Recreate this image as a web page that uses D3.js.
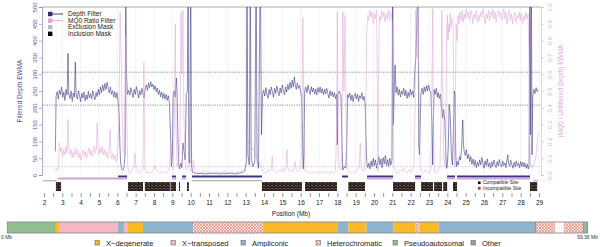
<!DOCTYPE html>
<html lang="en">
<head>
<meta charset="UTF-8">
<title>Filtered depth and MQ0 ratio along the Y chromosome</title>
<script src="https://d3js.org/d3.v7.min.js"></script>
<style>
  body { margin: 0; background: #fff; }
  svg { display: block; font-family: "Liberation Sans", Arial, sans-serif; }
</style>
</head>
<body>
<svg width="600" height="247"></svg>
<script>
// depth EWMA, [position Mb, depth]
const depthEwma = [
  [2.62,70],[2.66,235],[2.72,248],[2.78,226],[2.84,252],[2.9,240],[2.96,262],[3.02,231],[3.08,247],[3.14,222],
  [3.2,255],[3.26,238],[3.31,362],[3.35,241],[3.42,228],[3.48,250],[3.54,219],[3.6,244],[3.66,232],[3.71,336],
  [3.75,240],[3.82,226],[3.88,251],[3.94,235],[4.0,218],[4.06,243],[4.12,229],[4.18,247],[4.24,221],[4.3,238],
  [4.36,225],[4.42,249],[4.48,230],[4.54,242],[4.6,226],[4.66,251],[4.72,236],[4.78,224],[4.84,246],[4.9,233],
  [4.96,255],[5.02,238],[5.08,262],[5.14,245],[5.2,268],[5.26,250],[5.32,272],[5.38,255],[5.44,276],[5.5,258],
  [5.56,244],[5.62,262],[5.68,240],[5.74,251],[5.8,232],[5.86,248],[5.92,229],[5.98,245],[6.04,222],
  [6.1,180],[6.14,90],[6.18,35],[6.24,18],[6.3,14],[6.36,22],[6.42,60],[6.46,620],[6.5,300],[6.55,240],
  [6.62,252],[6.68,238],[6.74,260],[6.8,244],[6.86,231],[6.92,255],[6.98,240],[7.04,263],[7.1,247],[7.16,229],
  [7.22,251],[7.28,238],[7.34,258],[7.4,242],[7.46,230],[7.52,256],[7.58,268],[7.64,252],[7.7,274],[7.76,260],
  [7.82,278],[7.88,262],[7.94,270],[8.0,254],[8.06,266],[8.12,248],[8.18,259],[8.24,240],[8.3,252],[8.36,233],
  [8.42,247],[8.48,228],[8.54,243],[8.6,226],[8.66,240],[8.72,222],[8.78,236],[8.84,215],
  [8.9,120],[8.95,25],[9.0,60],[9.05,238],[9.1,250],[9.16,232],[9.22,289],[9.26,240],[9.3,120],[9.35,30],
  [9.4,18],[9.46,35],[9.52,22],[9.58,95],[9.64,70],[9.7,45],[9.76,240],[9.82,250],[9.86,650],[9.9,50],
  [9.95,35],[10.0,640],[10.05,30],[10.1,8],
  [10.2,6],[10.4,4],[10.6,5],[10.8,3],[11.0,5],[11.2,4],[11.4,6],[11.6,3],[11.8,5],[12.0,4],
  [12.2,6],[12.4,3],[12.6,5],[12.8,7],[12.95,12],
  [13.04,40],[13.07,650],[13.12,60],[13.2,30],[13.25,640],[13.3,50],[13.4,25],[13.5,40],[13.57,650],[13.62,45],
  [13.7,20],[13.8,660],[13.86,120],[13.92,240],
  [13.98,252],[14.04,235],[14.1,260],[14.16,241],[14.22,228],[14.28,255],[14.34,239],[14.4,262],[14.46,246],[14.52,231],
  [14.58,258],[14.64,243],[14.7,265],[14.76,248],[14.82,236],[14.88,259],[14.94,244],[15.0,268],[15.06,251],[15.12,239],
  [15.18,262],[15.24,247],[15.3,270],[15.36,254],[15.42,276],[15.48,258],[15.54,282],[15.6,262],[15.66,292],[15.7,270],
  [15.76,255],[15.82,274],[15.88,258],[15.94,266],[16.0,248],[16.06,230],[16.1,120],[16.14,18],[16.18,60],[16.22,250],
  [16.28,262],[16.34,245],[16.4,268],[16.46,251],[16.52,240],[16.58,263],[16.64,247],[16.7,259],[16.76,241],[16.82,256],
  [16.88,238],[16.94,260],[17.0,246],[17.06,262],[17.12,244],[17.18,257],[17.24,239],[17.3,255],[17.36,241],[17.42,258],
  [17.48,243],[17.54,229],[17.6,251],[17.66,236],[17.72,248],[17.78,232],[17.84,245],[17.9,228],[17.96,240],[18.0,90],
  [18.03,240],[18.1,250],[18.2,235],[18.26,80],[18.3,15],[18.38,25],[18.46,20],[18.52,110],[18.56,240],[18.62,230],
  [18.68,244],[18.74,222],[18.8,238],[18.86,218],[18.92,235],[18.98,243],[19.04,226],[19.1,240],[19.16,219],[19.22,236],
  [19.28,228],[19.34,245],[19.4,223],[19.46,234],[19.52,212],[19.56,120],
  [19.6,40],[19.66,22],[19.72,35],[19.78,18],[19.84,42],[19.9,25],[19.96,50],[20.02,28],[20.08,45],[20.14,20],
  [20.2,38],[20.26,55],[20.32,30],[20.38,48],[20.44,22],[20.5,52],[20.56,33],[20.62,58],[20.68,28],[20.74,46],
  [20.8,25],[20.86,50],[20.92,30],[20.98,44],[21.02,640],[21.06,150],
  [21.1,250],[21.15,327],[21.2,245],[21.26,262],[21.32,238],[21.38,255],[21.44,232],[21.5,250],[21.56,240],[21.62,258],
  [21.68,236],[21.74,252],[21.8,228],[21.86,246],[21.92,233],[21.98,255],[22.04,238],[22.1,250],[22.16,231],
  [22.22,300],[22.28,350],[22.34,452],[22.4,650],[22.44,90],[22.48,60],[22.52,150],[22.56,245],
  [22.62,258],[22.68,240],[22.74,262],[22.8,247],[22.86,266],[22.92,250],[22.98,268],[23.04,252],[23.1,243],[23.16,150],
  [23.2,30],[23.24,170],[23.28,255],[23.34,240],[23.4,258],[23.46,232],[23.5,245],[23.56,228],[23.62,240],[23.68,205],
  [23.74,170],[23.8,195],[23.86,160],[23.92,60],[23.96,20],[24.0,30],
  [24.05,80],[24.1,210],[24.16,175],[24.22,60],[24.28,30],[24.34,150],[24.38,250],[24.42,240],[24.46,60],[24.5,25],
  [24.55,40],[24.6,30],[24.66,55],[24.72,45],[24.78,80],[24.84,164],[24.88,90],[24.92,70],[24.98,58],[25.04,75],
  [25.1,48],[25.16,62],[25.22,40],[25.28,55],[25.34,32],[25.4,48],[25.46,28],[25.52,44],[25.58,22],[25.64,38],
  [25.7,26],[25.76,45],[25.82,30],[25.88,52],[25.94,34],[26.0,20],[26.06,42],[26.12,28],[26.18,48],[26.24,24],
  [26.3,36],[26.36,20],[26.42,40],[26.48,26],[26.54,45],[26.6,30],[26.66,22],[26.72,40],[26.78,27],[26.84,46],
  [26.9,30],[26.96,24],[27.02,42],[27.08,28],[27.14,36],[27.2,22],[27.26,48],[27.3,60],[27.34,35],[27.4,26],
  [27.46,44],[27.52,30],[27.58,20],[27.64,38],[27.7,25],[27.76,42],[27.82,28],[27.88,35],[27.94,22],[28.0,40],
  [28.06,26],[28.12,38],[28.18,24],[28.24,36],[28.3,20],[28.36,32],[28.42,18],[28.46,30],
  [28.5,660],[28.54,120],[28.58,640],[28.62,60],[28.66,235],[28.72,255],[28.78,242],[28.84,260],[28.9,248],[28.95,255]
];

// MQ0 / unfiltered depth EWMA, [position Mb, ratio]
const mq0Ewma = [
  [2.62,0.02],[2.7,0.04],[2.78,0.03],[2.84,0.19],[2.9,0.14],[2.96,0.16],[3.02,0.11],[3.08,0.15],[3.14,0.12],[3.2,0.17],
  [3.26,0.13],[3.31,0.33],[3.36,0.16],[3.42,0.12],[3.48,0.15],[3.54,0.1],[3.6,0.14],[3.66,0.11],[3.72,0.16],[3.78,0.12],
  [3.84,0.15],[3.9,0.1],[3.96,0.13],[4.02,0.09],[4.08,0.12],[4.14,0.15],[4.2,0.11],[4.26,0.14],[4.32,0.1],[4.38,0.13],
  [4.44,0.16],[4.5,0.12],[4.56,0.15],[4.62,0.11],[4.68,0.14],[4.74,0.17],[4.8,0.13],[4.86,0.16],[4.9,0.31],[4.95,0.15],
  [5.0,0.12],[5.06,0.16],[5.12,0.13],[5.18,0.17],[5.24,0.12],[5.3,0.15],[5.36,0.11],[5.42,0.14],[5.48,0.1],[5.54,0.13],
  [5.6,0.27],[5.65,0.12],[5.7,0.1],[5.76,0.13],[5.82,0.09],[5.88,0.12],[5.94,0.08],[6.0,0.11],[6.05,0.2],
  [6.1,0.45],[6.15,0.97],[6.2,0.75],[6.26,0.4],[6.32,0.15],[6.4,0.1],[6.47,0.83],[6.52,0.3],[6.57,0.05],
  [6.62,0.02],[6.7,0.01],[6.8,0.03],[6.9,0.05],[6.96,0.13],[7.02,0.04],[7.1,0.02],[7.2,0.01],[7.3,0.02],[7.4,0.03],
  [7.45,0.67],[7.5,0.03],[7.6,0.01],[7.7,0.02],[7.8,0.01],[7.9,0.02],[8.0,0.03],[8.05,0.06],[8.1,0.04],[8.2,0.02],
  [8.3,0.01],[8.4,0.02],[8.5,0.01],[8.6,0.02],[8.7,0.01],[8.8,0.03],[8.86,0.05],
  [8.92,0.2],[8.98,0.05],[9.05,0.03],[9.12,0.4],[9.16,0.9],[9.2,0.3],[9.26,0.05],[9.34,0.08],[9.42,0.2],[9.47,0.97],
  [9.52,0.6],[9.58,0.98],[9.64,0.3],[9.7,0.08],[9.76,0.03],[9.82,0.05],[9.88,0.09],[9.94,0.04],[10.0,0.03],[10.08,0.02],
  [10.16,0.09],[10.22,0.03],
  [10.3,0.02],[10.4,0.01],[10.5,0.02],[10.6,0.01],[10.7,0.03],[10.8,0.01],[10.9,0.02],[11.0,0.01],[11.1,0.02],[11.2,0.01],
  [11.3,0.02],[11.4,0.01],[11.5,0.02],[11.6,0.01],[11.7,0.02],[11.8,0.01],[11.9,0.03],[12.0,0.01],[12.1,0.02],[12.2,0.01],
  [12.3,0.02],[12.4,0.01],[12.5,0.02],[12.6,0.01],[12.7,0.02],[12.8,0.03],[12.9,0.02],[13.0,0.04],
  [13.06,0.08],[13.12,0.21],[13.2,0.18],[13.28,0.2],[13.36,0.15],[13.44,0.16],[13.52,0.12],[13.6,0.13],[13.68,0.09],[13.76,0.08],
  [13.84,0.05],[13.92,0.03],
  [14.0,0.02],[14.1,0.01],[14.2,0.03],[14.3,0.02],[14.4,0.04],[14.45,0.11],[14.5,0.03],[14.6,0.02],[14.7,0.01],[14.8,0.03],
  [14.9,0.02],[15.0,0.04],[15.1,0.02],[15.2,0.05],[15.25,0.15],[15.3,0.04],[15.4,0.02],[15.5,0.03],[15.6,0.02],[15.7,0.08],
  [15.76,0.03],[15.85,0.02],[15.95,0.04],[16.05,0.1],[16.12,0.94],[16.18,0.2],[16.24,0.03],[16.3,0.02],[16.4,0.01],[16.5,0.02],
  [16.6,0.01],[16.7,0.02],[16.8,0.01],[16.9,0.02],[17.0,0.01],[17.1,0.02],[17.2,0.01],[17.3,0.02],[17.4,0.01],[17.5,0.02],
  [17.6,0.01],[17.7,0.02],[17.8,0.01],[17.9,0.03],[17.97,0.3],[18.0,0.97],[18.04,0.2],[18.1,0.04],[18.2,0.03],[18.27,0.4],
  [18.3,0.97],[18.36,0.5],[18.42,0.95],[18.48,0.3],[18.54,0.05],[18.6,0.02],[18.7,0.01],[18.8,0.02],[18.9,0.01],[19.0,0.02],
  [19.1,0.03],[19.2,0.06],[19.25,0.19],[19.3,0.05],[19.4,0.02],[19.5,0.03],
  [19.55,0.3],[19.6,0.85],[19.66,0.95],[19.72,0.92],[19.78,0.98],[19.84,0.94],[19.9,0.97],[19.96,0.9],[20.02,0.96],[20.08,0.93],
  [20.14,0.98],[20.18,0.6],[20.22,0.02],[20.26,0.7],[20.3,0.95],[20.36,0.92],[20.42,0.98],[20.48,0.94],[20.54,0.97],[20.6,0.91],
  [20.66,0.96],[20.72,0.93],[20.78,0.98],[20.84,0.92],[20.9,0.97],[20.96,0.94],[21.0,0.9],[21.04,0.5],[21.08,0.05],
  [21.14,0.03],[21.2,0.02],[21.3,0.01],[21.4,0.03],[21.5,0.02],[21.6,0.04],[21.7,0.02],[21.8,0.01],[21.9,0.03],[22.0,0.02],
  [22.1,0.03],[22.18,0.05],
  [22.24,0.4],[22.28,0.98],[22.34,0.7],[22.4,0.99],[22.46,0.5],[22.52,0.05],
  [22.6,0.02],[22.7,0.01],[22.8,0.03],[22.9,0.02],[23.0,0.01],[23.1,0.03],[23.16,0.5],[23.2,0.99],[23.24,0.3],[23.3,0.02],
  [23.4,0.01],[23.5,0.03],[23.6,0.05],[23.66,0.4],[23.7,0.98],[23.74,0.5],[23.8,0.1],[23.86,0.05],[23.92,0.2],
  [23.96,0.85],[24.0,0.95],[24.04,0.8],[24.08,0.9],[24.12,0.85],[24.16,0.96],[24.2,0.88],[24.26,0.93],[24.32,0.9],[24.36,0.3],
  [24.4,0.05],[24.44,0.4],[24.48,0.9],[24.54,0.8],[24.58,0.95],[24.62,0.9],[24.68,0.97],[24.74,0.92],[24.8,0.98],[24.86,0.91],
  [24.92,0.96],[24.98,0.93],[25.04,0.99],[25.1,0.94],[25.16,0.97],[25.22,0.92],[25.28,0.98],[25.34,0.95],[25.4,0.9],[25.46,0.96],
  [25.52,0.93],[25.58,0.98],[25.64,0.91],[25.7,0.95],[25.76,0.92],[25.82,0.97],[25.88,0.94],[25.94,0.99],[26.0,0.95],[26.06,0.9],
  [26.12,0.96],[26.18,0.93],[26.24,0.98],[26.3,0.92],[26.36,0.97],[26.42,0.94],[26.48,0.99],[26.54,0.93],[26.6,0.97],[26.66,0.91],
  [26.72,0.96],[26.78,0.98],[26.84,0.94],[26.9,0.97],[26.96,0.92],[27.02,0.95],[27.08,0.99],[27.14,0.93],[27.2,0.97],[27.26,0.9],
  [27.32,0.95],[27.38,0.98],[27.44,0.92],[27.5,0.96],[27.56,0.9],[27.62,0.94],[27.68,0.97],[27.74,0.91],[27.8,0.95],[27.86,0.93],
  [27.92,0.97],[27.98,0.92],[28.04,0.96],[28.1,0.9],[28.16,0.95],[28.22,0.92],[28.28,0.97],[28.34,0.93],[28.4,0.96],[28.46,0.7],
  [28.5,0.2],[28.54,0.05],[28.6,0.04],[28.66,0.06],[28.72,0.05],[28.78,0.08],[28.84,0.12],[28.9,0.2],[28.95,0.25]
];

const depthCutoffs = [208, 306];
const mq0Cutoff = 0.05;

// mask intervals in Mb
const depthFilter = [[6.04,6.53],[8.98,9.2],[9.53,9.75],[10.07,13.89],[18.26,18.58],[19.62,21.04],[22.24,22.57],[23.99,24.42],[24.53,28.51]];
const mq0Filter = [[2.76,6.53],[8.98,9.2],[9.53,9.75],[19.62,21.04],[22.24,22.57],[23.99,24.42],[24.53,28.51]];
const exclusionMask = [[1.95,2.7],[10.07,13.89],[28.7,28.95]];
const inclusionMask = [[2.65,2.93],[6.58,7.4],[7.5,8.87],[8.9,9.2],[9.36,9.42],[9.8,9.9],[13.89,16.07],[16.24,17.98],
  [18.6,19.51],[21.04,22.24],[22.57,23.22],[23.28,23.71],[23.77,23.99],[24.31,24.53],[28.51,28.9]];

// chromosome bar
const segStart = [0, 2.65, 2.82, 6.04, 6.36, 6.58, 7.4, 10.13, 13.95, 18.0, 18.6, 19.6, 21.07, 22.27, 22.49, 23.53, 28.71, 28.87, 29.9, 30.35, 31.4, 31.5];
const segEnd   = [2.65, 2.82, 6.04, 6.36, 6.58, 7.4, 10.13, 13.95, 18.0, 18.6, 19.6, 21.07, 22.27, 22.49, 23.53, 28.71, 28.87, 29.9, 30.35, 31.4, 31.5, 31.65];
const segType  = ["par","xdeg","xtrans","ampl","xtrans","xdeg","ampl","het","xdeg","ampl","xdeg","ampl","xdeg","het","xdeg","ampl","other","het","gap","het","other","par"];

const classNames = ["X\u2212degenerate","X\u2212transposed","Ampliconic","Heterochromatic","Pseudoautosomal","Other"];
const classKeys = ["xdeg","xtrans","ampl","het","par","other"];

const positionTicks = [2,3,4,5,6,7,8,9,10,11,12,13,14,15,16,17,18,19,20,21,22,23,24,25,26,27,28,29];
const depthTicks = [0,50,100,150,200,250,300,350,400,450,500];
const ratioTicks = [0,0.1,0.2,0.3,0.4,0.5,0.6,0.7,0.8,0.9,1.0];

const navy = "#2d2d7d", pink = "#dca3d4";
const classColor = { xdeg: "#fbba25", xtrans: "#f7b6c5", ampl: "#8db5d0", het: "url(#hatch)", par: "#8fbf8c", other: "#9c9c9c", gap: "#fff" };

const svg = d3.select("svg");
const defs = svg.append("defs");

const hatch = defs.append("pattern").attr("id", "hatch").attr("width", 3).attr("height", 3).attr("patternUnits", "userSpaceOnUse");
hatch.append("rect").attr("width", 3).attr("height", 3).attr("fill", "#fbe2dc");
hatch.append("path").attr("d", "M0,0L3,3M3,0L0,3").attr("stroke", "#e57f6c").attr("stroke-width", 0.6);

const sites = defs.append("pattern").attr("id", "sites").attr("width", 4).attr("height", 3).attr("patternUnits", "userSpaceOnUse");
sites.append("rect").attr("width", 4).attr("height", 3).attr("fill", "#2e2220");
sites.append("rect").attr("x", 1).attr("y", 0).attr("width", 1).attr("height", 1).attr("fill", "#8e3a30");
sites.append("rect").attr("x", 3).attr("y", 2).attr("width", 1).attr("height", 1).attr("fill", "#7a4a40");
sites.append("rect").attr("x", 0).attr("y", 2).attr("width", 1).attr("height", 1).attr("fill", "#5e504c");

defs.append("clipPath").attr("id", "plotclip").append("rect")
  .attr("x", 42).attr("y", 7).attr("width", 499).attr("height", 168.5);

const x = d3.scaleLinear().domain([2, 29]).range([44, 539]);
const yD = d3.scaleLinear().domain([0, 500]).range([175, 7]);
const yR = d3.scaleLinear().domain([0, 1]).range([175, 7]);

// grid
svg.append("g").selectAll("line").data(positionTicks).join("line")
  .attr("x1", d => x(d)).attr("x2", d => x(d)).attr("y1", 7).attr("y2", 175)
  .attr("stroke", "#ededed").attr("stroke-width", 0.6);

// frame top + axes
svg.append("line").attr("x1", 42).attr("x2", 541).attr("y1", 7).attr("y2", 7).attr("stroke", "#8a8a8a").attr("stroke-width", 0.7);

const leftAxis = svg.append("g").attr("transform", "translate(42,0)")
  .call(d3.axisLeft(yD).tickValues(depthTicks).tickSize(3).tickPadding(2));
leftAxis.select(".domain").attr("stroke", "#7a7ab0").attr("stroke-width", 0.6);
leftAxis.selectAll(".tick line").attr("stroke", "#7a7ab0").attr("stroke-width", 0.6);
leftAxis.selectAll(".tick text").attr("transform", "rotate(-90)").attr("x", 0).attr("y", -5).attr("dy", 0)
  .attr("text-anchor", "middle").attr("fill", "#5c5ca6").style("font-size", "6px");

const rightAxis = svg.append("g").attr("transform", "translate(541,0)")
  .call(d3.axisRight(yR).tickValues(ratioTicks).tickSize(3).tickFormat(d3.format(".1f")));
rightAxis.select(".domain").attr("stroke", "#d9b0d4").attr("stroke-width", 0.6);
rightAxis.selectAll(".tick line").attr("stroke", "#d9b0d4").attr("stroke-width", 0.6);
rightAxis.selectAll(".tick text").attr("transform", "rotate(-90)").attr("x", 0).attr("y", 11).attr("dy", 0)
  .attr("text-anchor", "middle").attr("fill", "#dcaad6").style("font-size", "6px");

svg.append("text").attr("transform", "translate(22,91) rotate(-90)").attr("text-anchor", "middle")
  .attr("fill", "#5050a0").style("font-size", "6.5px").text("Filtered Depth EWMA");
svg.append("text").attr("transform", "translate(563,91) rotate(-90)").attr("text-anchor", "middle")
  .attr("fill", "#dcaad6").style("font-size", "6.5px").text("(MQ0 / Unfiltered Depth) EWMA");

// cutoff lines
svg.append("g").selectAll("line").data(depthCutoffs).join("line")
  .attr("x1", 42).attr("x2", 541).attr("y1", d => yD(d)).attr("y2", d => yD(d))
  .attr("stroke", "#444").attr("stroke-width", 0.6).attr("stroke-dasharray", "1.2,1.2");
svg.append("line").attr("x1", 42).attr("x2", 541).attr("y1", yR(mq0Cutoff)).attr("y2", yR(mq0Cutoff))
  .attr("stroke", "#b8a0b8").attr("stroke-width", 0.6).attr("stroke-dasharray", "1.2,1.2");

// series
const plot = svg.append("g").attr("clip-path", "url(#plotclip)");
plot.append("path").datum(depthEwma)
  .attr("d", d3.line().x(d => x(d[0])).y(d => yD(d[1])))
  .attr("fill", "none").attr("stroke", navy).attr("stroke-width", 0.65).attr("stroke-opacity", 0.85);
plot.append("path").datum(mq0Ewma)
  .attr("d", d3.line().x(d => x(d[0])).y(d => yR(d[1])))
  .attr("fill", "none").attr("stroke", pink).attr("stroke-width", 0.65).attr("stroke-opacity", 0.8);

// mask strips
function strip(data, y, h, fill) {
  svg.append("g").selectAll("rect").data(data).join("rect")
    .attr("x", d => x(d[0])).attr("width", d => Math.max(0.8, x(d[1]) - x(d[0])))
    .attr("y", y).attr("height", h).attr("fill", fill);
}
strip(depthFilter, 175.5, 2, "#34348a");
strip(mq0Filter, 177.5, 2, "#d9a0d3");
strip(exclusionMask, 180, 1.4, "#b8b8b8");
strip(inclusionMask, 182, 9, "url(#sites)");

// site legend
const siteLeg = svg.append("g").style("font-size", "5px");
[["Compatible Site", "#000"], ["Incompatible Site", "#d22"]].forEach((s, i) => {
  siteLeg.append("rect").attr("x", 478).attr("y", 181.5 + i * 5.5).attr("width", 2.6).attr("height", 2.6).attr("fill", s[1]);
  siteLeg.append("text").attr("x", 483).attr("y", 184 + i * 5.5).attr("fill", "#222").text(s[0]);
});

// x axis
const xAxis = svg.append("g").attr("transform", "translate(0,193)")
  .call(d3.axisBottom(x).tickValues(d3.range(2, 29.01, 0.5)).tickSize(4).tickPadding(3)
    .tickFormat(d => positionTicks.includes(d) ? d : ""));
xAxis.select(".domain").remove();
xAxis.selectAll(".tick line").attr("stroke", "#333").attr("stroke-width", 0.5);
xAxis.selectAll(".tick text").attr("fill", "#222").style("font-size", "6.5px");
svg.append("text").attr("x", 291).attr("y", 216).attr("text-anchor", "middle")
  .attr("fill", "#222").style("font-size", "6.5px").text("Position (Mb)");

// top-left legend
const leg = svg.append("g").style("font-size", "6.5px");
const legItems = [["Depth Filter", navy, true], ["MQ0 Ratio Filter", pink, true], ["Exclusion Mask", "#bdbdbd", false], ["Inclusion Mask", "#000", false]];
legItems.forEach((it, i) => {
  const cy = 14 + i * 6.6;
  leg.append("rect").attr("x", 48).attr("y", cy - 2.2).attr("width", 4.4).attr("height", 4.4).attr("fill", it[1]);
  if (it[2]) leg.append("line").attr("x1", 52).attr("x2", 63).attr("y1", cy).attr("y2", cy).attr("stroke", it[1]).attr("stroke-width", 0.9);
  leg.append("text").attr("x", 68).attr("y", cy + 2.2).attr("fill", "#222").text(it[0]);
});

// chromosome bar
const bar = svg.append("g");
bar.selectAll("rect").data(segType).join("rect")
  .attr("x", (d, i) => x(segStart[i])).attr("width", (d, i) => x(segEnd[i]) - x(segStart[i]))
  .attr("y", 222).attr("height", 11).attr("fill", d => classColor[d]);
bar.append("rect").attr("x", x(0)).attr("width", x(31.65) - x(0)).attr("y", 222).attr("height", 11)
  .attr("fill", "none").attr("stroke", "#8c8c8c").attr("stroke-width", 0.9);
const gi = segType.indexOf("gap");
bar.append("text").attr("x", (x(segStart[gi]) + x(segEnd[gi])) / 2).attr("y", 228).attr("text-anchor", "middle")
  .attr("fill", "#888").style("font-size", "6px").text("...");
svg.append("text").attr("x", 1).attr("y", 239).attr("fill", "#333").style("font-size", "5px").text("0 Mb");
svg.append("text").attr("x", 598).attr("y", 238.5).attr("text-anchor", "end").attr("fill", "#333").style("font-size", "5px").text("59.36 Mb");

// class legend
const legX = [95, 171, 241, 316, 393, 471];
const cleg = svg.append("g").style("font-size", "7.5px");
classKeys.forEach((k, i) => {
  cleg.append("rect").attr("x", legX[i]).attr("y", 240.5).attr("width", 4.5).attr("height", 4.5)
    .attr("fill", classColor[k]).attr("stroke", "#555").attr("stroke-width", 0.5);
  cleg.append("text").attr("x", legX[i] + 11).attr("y", 245.5).attr("fill", "#222").text(classNames[i]);
});
</script>
</body>
</html>
